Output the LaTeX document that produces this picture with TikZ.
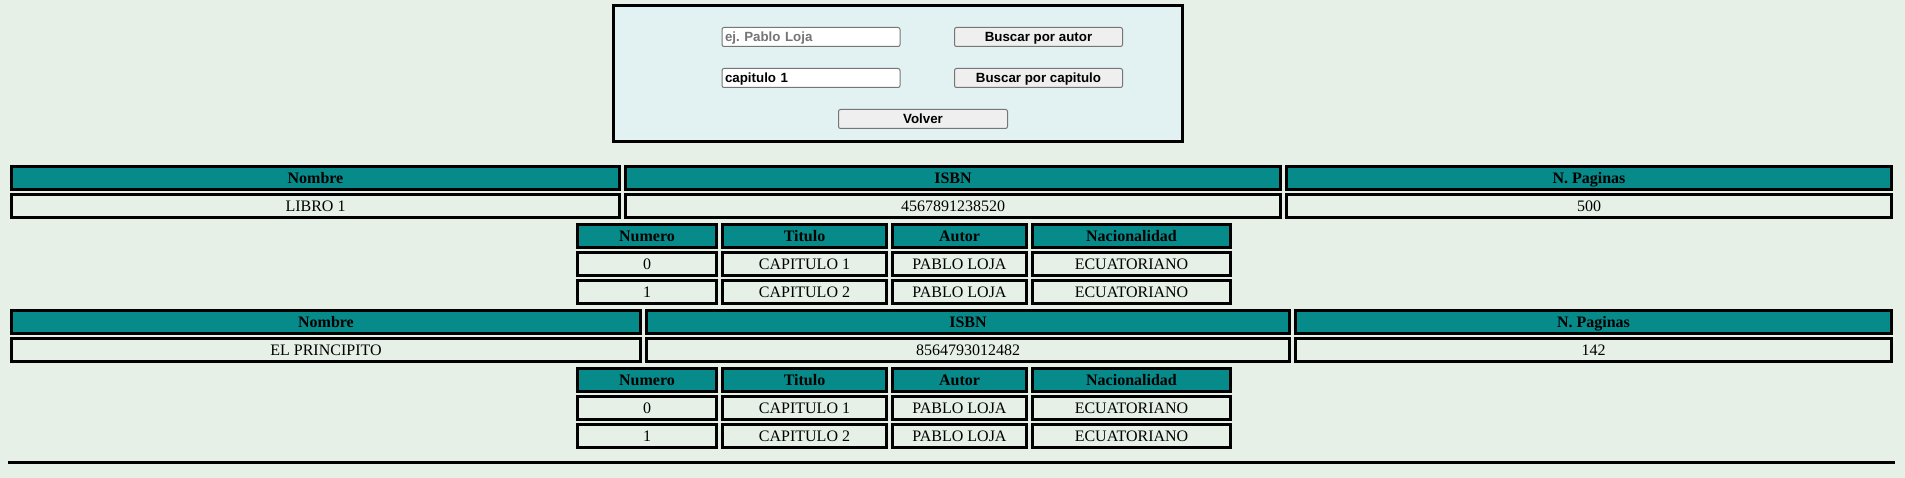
\documentclass[tikz,border=0pt]{standalone}
\usepackage{fontspec}
\setmainfont{Liberation Serif}
\newfontfamily\uifont{Liberation Sans}
\definecolor{page}{HTML}{E6F0E6}
\definecolor{formbg}{HTML}{E2F1F2}
\definecolor{headbg}{HTML}{068A8A}
\definecolor{edge}{HTML}{767676}
\definecolor{btnbg}{HTML}{EFEFEF}
\definecolor{hint}{HTML}{757575}
\frenchspacing
\begin{document}
\begin{tikzpicture}[x=1pt, y=-1pt,
% common options for the search form:
formbox/.style = {draw, line width=3pt, fill=formbg, minimum width=569pt,
            minimum height=136pt, inner sep=0},
field/.style = {draw=edge, line width=1pt, fill=white, rounded corners=2pt,
            text width=172pt, inner xsep=3pt, inner ysep=0, align=left,
            text height=12.1pt, text depth=2.8pt, minimum height=19pt,
            font=\uifont\bfseries\fontsize{13.33}{16}\selectfont},
btn/.style = {draw=edge, line width=1pt, fill=btnbg, rounded corners=2pt,
            minimum width=168pt, minimum height=19pt, inner sep=0,
            text height=12.1pt, text depth=2.8pt,
            font=\uifont\bfseries\fontsize{13.33}{16}\selectfont},
% common options for the table cells:
hcell/.style = {draw, line width=3pt, fill=headbg, inner sep=0,
            text height=14.3pt, text depth=3.5pt, minimum height=23pt,
            font=\bfseries\fontsize{16}{19}\selectfont},
dcell/.style = {draw, line width=3pt, fill=page, inner sep=0,
            text height=14.3pt, text depth=3.5pt, minimum height=23pt,
            font=\fontsize{16}{19}\selectfont}]
\fill[page] (0,0) rectangle (1905,478);
% search form
\node[formbox] (F0) at (898,73.5) {};
\node[field, text=hint] (F1) at (811,37) {ej. Pablo Loja};
\node[btn] (F2) at (1038.5,37) {Buscar por autor};
\node[field] (F3) at (811,78) {capitulo 1};
\node[btn] (F4) at (1038.5,78) {Buscar por capitulo};
\node[btn, minimum width=169pt] (F5) at (923,119) {Volver};
% first book
\node[hcell, minimum width=608pt] (A1) at (315.5,178) {Nombre};
\node[hcell, minimum width=655pt] (A2) at (953,178) {ISBN};
\node[hcell, minimum width=605pt] (A3) at (1589,178) {N. Paginas};
\node[dcell, minimum width=608pt] (B1) at (315.5,206) {LIBRO 1};
\node[dcell, minimum width=655pt] (B2) at (953,206) {4567891238520};
\node[dcell, minimum width=605pt] (B3) at (1589,206) {500};
\node[hcell, minimum width=139pt] (C1) at (647,236) {Numero};
\node[hcell, minimum width=164pt] (C2) at (804.5,236) {Titulo};
\node[hcell, minimum width=134pt] (C3) at (959.5,236) {Autor};
\node[hcell, minimum width=198pt] (C4) at (1131.5,236) {Nacionalidad};
\node[dcell, minimum width=139pt] (D1) at (647,264) {0};
\node[dcell, minimum width=164pt] (D2) at (804.5,264) {CAPITULO 1};
\node[dcell, minimum width=134pt] (D3) at (959.5,264) {PABLO LOJA};
\node[dcell, minimum width=198pt] (D4) at (1131.5,264) {ECUATORIANO};
\node[dcell, minimum width=139pt] (E1) at (647,292) {1};
\node[dcell, minimum width=164pt] (E2) at (804.5,292) {CAPITULO 2};
\node[dcell, minimum width=134pt] (E3) at (959.5,292) {PABLO LOJA};
\node[dcell, minimum width=198pt] (E4) at (1131.5,292) {ECUATORIANO};
% second book
\node[hcell, minimum width=629pt] (G1) at (326,322) {Nombre};
\node[hcell, minimum width=643pt] (G2) at (968,322) {ISBN};
\node[hcell, minimum width=596pt] (G3) at (1593.5,322) {N. Paginas};
\node[dcell, minimum width=629pt] (H1) at (326,350) {EL PRINCIPITO};
\node[dcell, minimum width=643pt] (H2) at (968,350) {8564793012482};
\node[dcell, minimum width=596pt] (H3) at (1593.5,350) {142};
\node[hcell, minimum width=139pt] (J1) at (647,380) {Numero};
\node[hcell, minimum width=164pt] (J2) at (804.5,380) {Titulo};
\node[hcell, minimum width=134pt] (J3) at (959.5,380) {Autor};
\node[hcell, minimum width=198pt] (J4) at (1131.5,380) {Nacionalidad};
\node[dcell, minimum width=139pt] (K1) at (647,408) {0};
\node[dcell, minimum width=164pt] (K2) at (804.5,408) {CAPITULO 1};
\node[dcell, minimum width=134pt] (K3) at (959.5,408) {PABLO LOJA};
\node[dcell, minimum width=198pt] (K4) at (1131.5,408) {ECUATORIANO};
\node[dcell, minimum width=139pt] (L1) at (647,436) {1};
\node[dcell, minimum width=164pt] (L2) at (804.5,436) {CAPITULO 2};
\node[dcell, minimum width=134pt] (L3) at (959.5,436) {PABLO LOJA};
\node[dcell, minimum width=198pt] (L4) at (1131.5,436) {ECUATORIANO};
% closing rule
\draw[line width=3pt] (8,462.5) -- (1895,462.5);
\end{tikzpicture}
\end{document}
